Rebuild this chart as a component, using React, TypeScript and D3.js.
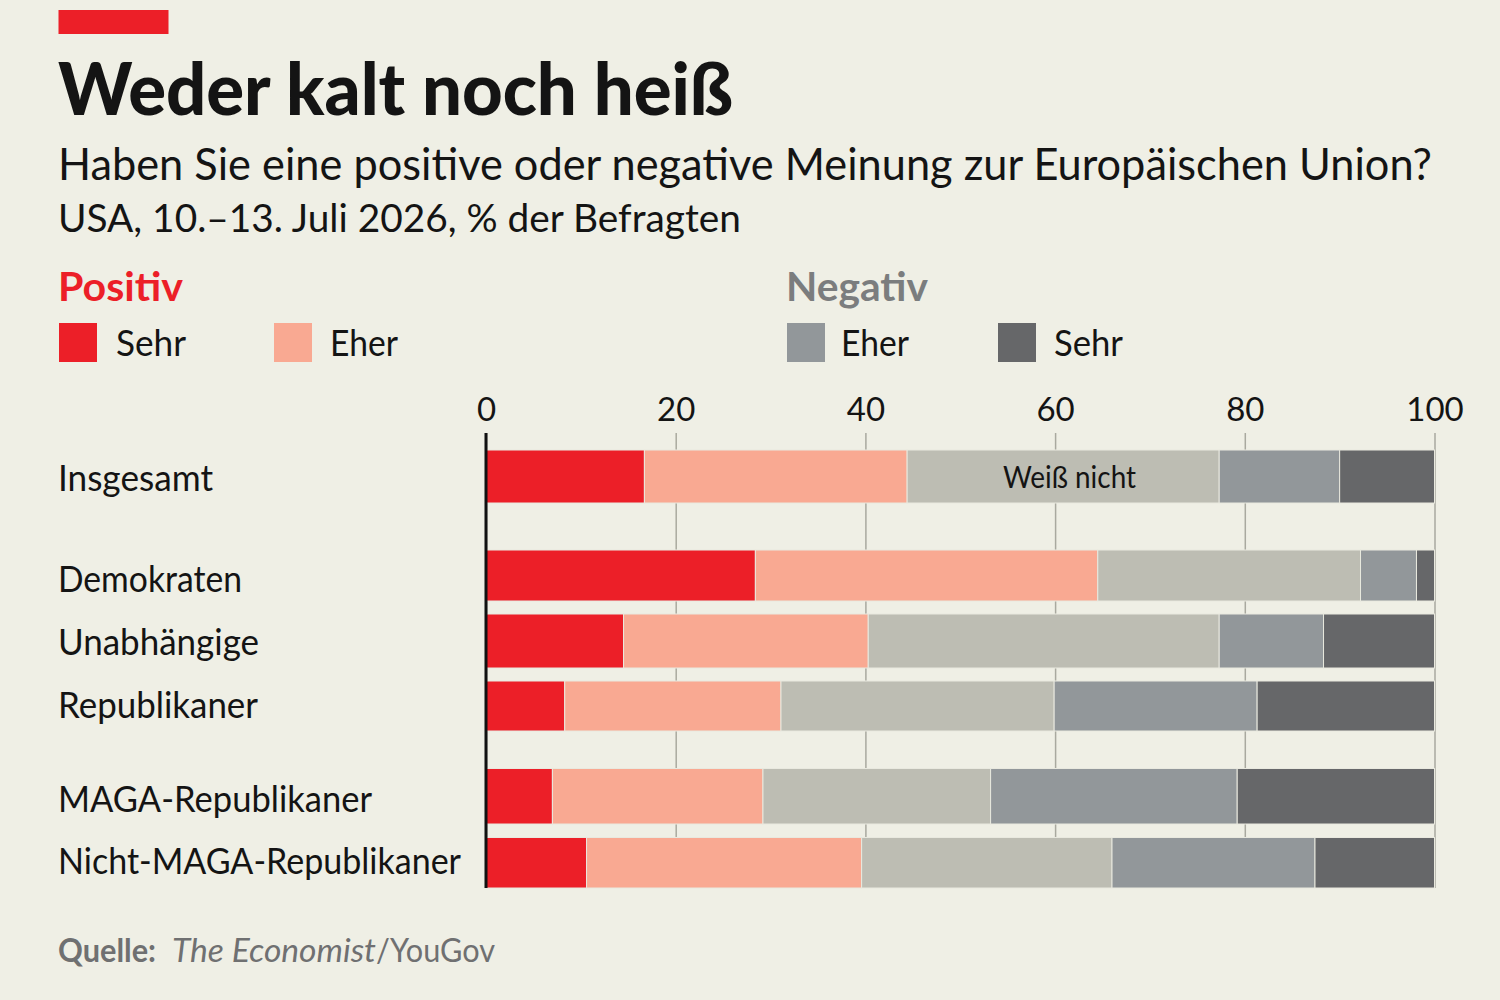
import { useEffect, useRef } from 'react';
import * as d3 from 'd3';

const categories = ['Insgesamt', 'Demokraten', 'Unabhängige', 'Republikaner', 'MAGA-Republikaner', 'Nicht-MAGA-Republikaner'];
const sehrPositiv = [16.7, 28.4, 14.5, 8.3, 7.0, 10.6];
const eherPositiv = [27.7, 36.1, 25.8, 22.8, 22.2, 29.0];
const weissNicht = [32.9, 27.7, 37.0, 28.8, 24.0, 26.4];
const eherNegativ = [12.7, 5.9, 11.0, 21.4, 26.0, 21.4];
const sehrNegativ = [10.0, 1.9, 11.7, 18.7, 20.8, 12.6];
const xTicks = [0, 20, 40, 60, 80, 100];

const seriesKeys = ['sehrPos', 'eherPos', 'weiss', 'eherNeg', 'sehrNeg'];
const seriesColors = ['#ec1f28', '#f9a992', '#bdbdb3', '#92979a', '#666769'];

// the groups are unevenly spaced in the original, so rows get their own layout
const rowTops = [450, 550, 614, 681, 768.5, 837.5];
const rowHeights = [53, 51, 54, 50, 55.5, 50.5];
const rowBaselines = [491, 592, 655, 718, 812, 874];
const rowLabelWidths = [155, 184, 201, 200, 314, 403];

const FONT = 'Lato, "Open Sans", sans-serif';
const INK = '#141414';
const BG = '#efefe5';

export default function App() {
  const svgRef = useRef<SVGSVGElement>(null);

  useEffect(() => {
    const svg = d3.select(svgRef.current);
    svg.selectAll('*').remove();

    const W = 1500, H = 1000;
    svg.attr('viewBox', `0 0 ${W} ${H}`).attr('font-family', FONT);
    svg.append('rect').attr('width', W).attr('height', H).attr('fill', BG);

    // widths forced with textLength, the original face is narrower than anything installed
    const label = (str: string, x: number, y: number, size: number, width: number, fill = INK, weight = 400, style = 'normal') =>
      svg.append('text')
        .attr('x', x).attr('y', y)
        .attr('font-size', size).attr('font-weight', weight).attr('font-style', style)
        .attr('fill', fill)
        .attr('textLength', width).attr('lengthAdjust', 'spacingAndGlyphs')
        .text(str);

    // Header
    svg.append('rect').attr('x', 58.5).attr('y', 10).attr('width', 110).attr('height', 24).attr('fill', seriesColors[0]);
    label('Weder kalt noch heiß', 58, 115, 72, 675, INK, 900);
    label('Haben Sie eine positive oder negative Meinung zur Europäischen Union?', 58, 180, 44, 1374);
    label('USA, 10.–13. Juli 2026, % der Befragten', 58, 232, 38, 683);

    // Legend
    label('Positiv', 58, 301, 40, 125, seriesColors[0], 700);
    label('Negativ', 786, 301, 40, 142, '#7b7d7e', 700);
    const legend = [
      { name: 'Sehr', color: seriesColors[0], x: 59, tx: 116, tw: 70 },
      { name: 'Eher', color: seriesColors[1], x: 274, tx: 330, tw: 68 },
      { name: 'Eher', color: seriesColors[3], x: 787, tx: 841, tw: 68 },
      { name: 'Sehr', color: seriesColors[4], x: 998, tx: 1054, tw: 69 },
    ];
    legend.forEach(l => {
      svg.append('rect').attr('x', l.x).attr('y', 323).attr('width', 38).attr('height', 39).attr('fill', l.color);
      label(l.name, l.tx, 356, 36, l.tw);
    });

    const x = d3.scaleLinear().domain([0, 100]).range([486, 1434.5]);
    const yTop = d3.scaleOrdinal<string, number>().domain(categories).range(rowTops);
    const yH = d3.scaleOrdinal<string, number>().domain(categories).range(rowHeights);

    // Axis + gridlines, under the bars
    const axisTop = 433, axisBottom = 888;
    const axis = svg.append('g')
      .attr('transform', `translate(0,${axisTop})`)
      .call(d3.axisTop(x).tickValues(xTicks).tickFormat(d3.format('d')).tickSize(-(axisBottom - axisTop)).tickPadding(12));
    axis.select('.domain').remove();
    axis.selectAll('line').attr('stroke', '#a9a99f').attr('stroke-width', 1.5);
    axis.selectAll('text').attr('font-size', 33).attr('font-family', FONT).attr('fill', INK);

    // Stacked bars
    const rows = categories.map((c, i) => ({
      category: c,
      sehrPos: sehrPositiv[i],
      eherPos: eherPositiv[i],
      weiss: weissNicht[i],
      eherNeg: eherNegativ[i],
      sehrNeg: sehrNegativ[i],
    }));
    const stacked = d3.stack<any>().keys(seriesKeys)(rows);

    svg.append('g').selectAll('g')
      .data(stacked)
      .join('g')
      .attr('fill', (_, i) => seriesColors[i])
      .selectAll('rect')
      .data(d => d)
      .join('rect')
      .attr('x', d => x(d[0]))
      .attr('width', d => x(d[1]) - x(d[0]))
      .attr('y', d => yTop(d.data.category))
      .attr('height', d => yH(d.data.category))
      .attr('stroke', '#e9e9df')
      .attr('stroke-width', 1);

    // Zero line on top
    svg.append('line')
      .attr('x1', x(0)).attr('x2', x(0)).attr('y1', axisTop).attr('y2', axisBottom)
      .attr('stroke', '#111').attr('stroke-width', 3);

    // Row labels
    categories.forEach((c, i) => label(c, 58, rowBaselines[i], 36, rowLabelWidths[i]));

    label('Weiß nicht', 1003, 488, 30, 133);

    // Source
    label('Quelle:', 58, 962, 33, 98, '#6f7071', 700);
    label('The Economist', 172, 962, 33, 204, '#6f7071', 400, 'italic');
    label('/YouGov', 376, 962, 33, 119, '#6f7071');
  }, []);

  return (
    <svg
      ref={svgRef}
      width={1500}
      height={1000}
      style={{ position: 'absolute', left: 0, top: 0, display: 'block' }}
    />
  );
}
